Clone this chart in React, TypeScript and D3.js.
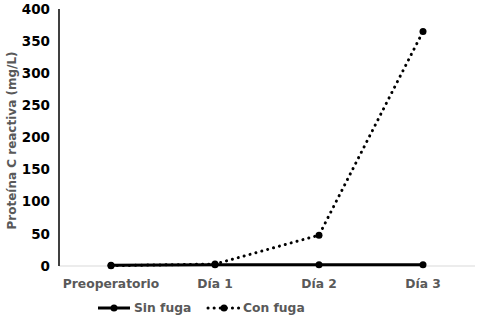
import React from "react";
import * as d3 from "d3";

const categories = ["Preoperatorio", "Día 1", "Día 2", "Día 3"];
const sinFuga = [1, 2, 2, 2];
const conFuga = [0.5, 3, 48, 365];
const yTicks = [0, 50, 100, 150, 200, 250, 300, 350, 400];

const W = 480;
const H = 319;
const margin = { top: 9, right: 5, bottom: 53, left: 59 };
const font = "'DejaVu Sans', Verdana, sans-serif";

export default function App() {
  const x = d3
    .scaleBand<string>()
    .domain(categories)
    .range([margin.left, W - margin.right]);
  const y = d3
    .scaleLinear()
    .domain([0, 400])
    .range([H - margin.bottom, margin.top]);
  const cx = (c: string) => (x(c) ?? 0) + x.bandwidth() / 2;

  const line = d3
    .line<number>()
    .x((_, i) => cx(categories[i]))
    .y((d) => y(d));

  const y0 = y(0);

  return (
    <svg
      width={W}
      height={H}
      style={{ position: "absolute", left: 0, top: 0, background: "#fff" }}
    >
      {/* x baseline */}
      <line x1={margin.left} x2={W - margin.right} y1={y0} y2={y0} stroke="#d9d9d9" strokeWidth={1} />
      {/* y axis */}
      <line x1={margin.left} x2={margin.left} y1={margin.top} y2={y0} stroke="#404040" strokeWidth={2} />
      {yTicks.map((t) => (
        <text
          key={t}
          x={margin.left - 9}
          y={y(t)}
          dy="0.35em"
          textAnchor="end"
          fontFamily={font}
          fontWeight="bold"
          fontSize={13.5}
          fill="#000"
        >
          {t}
        </text>
      ))}
      {categories.map((c) => (
        <text
          key={c}
          x={cx(c)}
          y={y0 + 22}
          textAnchor="middle"
          fontFamily={font}
          fontWeight="bold"
          fontSize={12.3}
          fill="#595959"
        >
          {c}
        </text>
      ))}
      <text
        transform={`translate(16,${(margin.top + y0) / 2 + 3}) rotate(-90)`}
        textAnchor="middle"
        fontFamily={font}
        fontWeight="bold"
        fontSize={12}
        fill="#595959"
      >
        Proteína C reactiva (mg/L)
      </text>

      {/* series */}
      <path d={line(sinFuga) ?? ""} fill="none" stroke="#000" strokeWidth={3} />
      {sinFuga.map((v, i) => (
        <circle key={"s" + i} cx={cx(categories[i])} cy={y(v)} r={3.5} fill="#000" />
      ))}
      <path
        d={line(conFuga) ?? ""}
        fill="none"
        stroke="#000"
        strokeWidth={3}
        strokeDasharray="0.1 6"
        strokeLinecap="round"
      />
      {conFuga.map((v, i) => (
        <circle key={"c" + i} cx={cx(categories[i])} cy={y(v)} r={3.5} fill="#000" />
      ))}

      {/* legend */}
      <g fontFamily={font} fontWeight="bold" fontSize={12.3} fill="#595959">
        <line x1={98} x2={130} y1={308} y2={308} stroke="#000" strokeWidth={3} />
        <circle cx={114} cy={308} r={3.5} fill="#000" />
        <text x={134} y={308} dy="0.35em">Sin fuga</text>
        <line
          x1={208}
          x2={240}
          y1={308}
          y2={308}
          stroke="#000"
          strokeWidth={3}
          strokeDasharray="0.1 6"
          strokeLinecap="round"
        />
        <circle cx={224} cy={308} r={3.5} fill="#000" />
        <text x={243} y={308} dy="0.35em">Con fuga</text>
      </g>
    </svg>
  );
}
